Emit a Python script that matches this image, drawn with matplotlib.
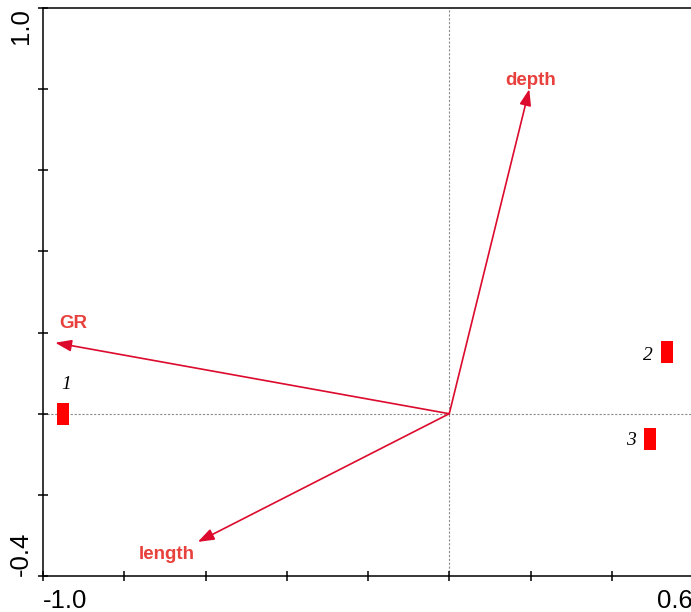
import matplotlib

matplotlib.use("Agg")
import matplotlib.pyplot as plt
from matplotlib.path import Path

# environmental vectors (biplot arrows)
env_names = ["depth", "GR", "length"]
env_x = [0.197, -0.970, -0.619]
env_y = [0.800, 0.175, -0.316]

# sample scores
sample_ids = ["1", "2", "3"]
sample_x = [-0.951, 0.536, 0.494]
sample_y = [0.0, 0.153, -0.062]

xticks = [-1.0, -0.8, -0.6, -0.4, -0.2, 0.0, 0.2, 0.4, 0.6]
yticks = [-0.4, -0.2, 0.0, 0.2, 0.4, 0.6, 0.8, 1.0]

ARROW = "#dc0a2d"
LABEL = "#e8403c"

W, H = 691, 612
fig = plt.figure(figsize=(W / 100, H / 100), dpi=100)
ax = fig.add_axes([43 / W, 36 / H, 650 / W, 568 / H])
ax.set_xlim(-1.0, 0.6)
ax.set_ylim(-0.4, 1.0)

for s in ax.spines.values():
    s.set_linewidth(1.1)

ax.axhline(0, color="#8c8c8c", lw=0.8, ls=(0, (2, 1.5)), zorder=1)
ax.axvline(0, color="#8c8c8c", lw=0.8, ls=(0, (2, 1.5)), zorder=1)

# arrows + labels
label_off = {"depth": (1, 6), "GR": (13, 14), "length": (-22, -9)}
for name, x, y in zip(env_names, env_x, env_y):
    ax.annotate("", xy=(x, y), xytext=(0, 0),
                arrowprops=dict(arrowstyle="-|>,head_length=0.7,head_width=0.25",
                                color=ARROW, lw=1.2, shrinkA=0, shrinkB=0,
                                mutation_scale=14), zorder=3)
    ax.annotate(name, xy=(x, y), xytext=label_off[name], textcoords="offset points",
                ha="center", va="center", color=LABEL, fontsize=13.5, fontweight="bold",
                family="Liberation Sans", zorder=4)

# samples drawn as tall red bars
bar = Path([(-0.28, -0.5), (0.28, -0.5), (0.28, 0.5), (-0.28, 0.5), (-0.28, -0.5)],
           [Path.MOVETO, Path.LINETO, Path.LINETO, Path.LINETO, Path.CLOSEPOLY])
ax.scatter(sample_x, sample_y, marker=bar, s=260, color="#ff0000",
           linewidths=0, zorder=5, clip_on=False)
id_off = {"1": (2, 21), "2": (-14, -3), "3": (-14, -1)}
for sid, x, y in zip(sample_ids, sample_x, sample_y):
    ax.annotate(sid, xy=(x, y), xytext=id_off[sid], textcoords="offset points",
                ha="center", va="center", fontsize=14, style="italic",
                family="Liberation Serif", zorder=6)

ax.set_xticks(xticks)
ax.set_yticks(yticks)
ax.set_xticklabels(["-1.0"] + [""] * 7 + ["0.6"], family="Liberation Sans", fontsize=18.5)
ax.set_yticklabels(["-0.4"] + [""] * 6 + ["1.0"], family="Liberation Sans", fontsize=18.5,
                   rotation=90)
ax.tick_params(direction="inout", length=7, width=1.1, color="black")
ax.tick_params(axis="x", pad=6)
ax.tick_params(axis="y", pad=4)
xl = ax.get_xticklabels()
xl[0].set_ha("left")
xl[-1].set_ha("right")
yl = ax.get_yticklabels()
yl[0].set_va("bottom")
yl[-1].set_va("top")

fig.savefig("out.png", dpi=100)
